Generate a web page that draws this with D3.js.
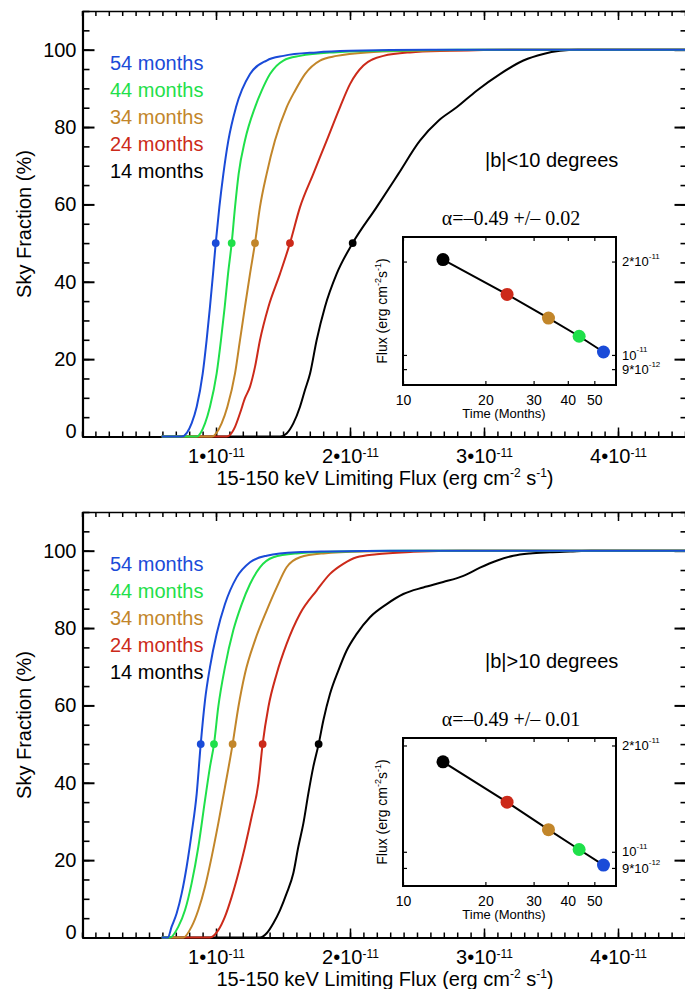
<!DOCTYPE html>
<html>
<head>
<meta charset="utf-8">
<script src="https://cdn.jsdelivr.net/npm/d3@7"></script>
<style>
  body { margin: 0; background: #fff; }
  svg { display: block; }
</style>
</head>
<body>
<svg id="chart" width="685" height="989"></svg>
<script>
// ---- Data -------------------------------------------------------------
// Survey exposure (months), listed in legend order
const months = [54, 44, 34, 24, 14];
const seriesColors = ["#1a4bd8", "#1fe04a", "#c2862a", "#cc2a1a", "#000000"];

// x-axis ticks (flux in units of 1e-11 erg cm^-2 s^-1)
const xMajorTicks = [1, 2, 3, 4];
const xTickExponent = "-11";
const yMajorTicks = [0, 20, 40, 60, 80, 100];

// Cumulative sky fraction (%) vs limiting flux (1e-11 cgs), |b|<10 deg
const lowLat54 = [[0.595,0],[0.744,0],[0.818,3.4],[0.856,7.7],[0.901,16.3],[0.930,24.9],[0.955,33.5],[0.978,42.1],[0.998,50],[1.025,59.3],[1.055,67.9],[1.092,76.5],[1.149,85.1],[1.254,93.7],[1.378,97.2],[1.503,98.4],[1.751,99.3],[2.0,99.7],[2.6,100],[4.5,100]];
const lowLat44 = [[0.595,0],[0.856,0],[0.918,3.4],[0.955,7.7],[1.005,16.3],[1.037,24.9],[1.065,33.5],[1.090,42.1],[1.117,50],[1.142,59.3],[1.169,67.9],[1.216,76.5],[1.291,85.1],[1.341,89.4],[1.403,93.7],[1.503,97.2],[1.627,98.4],[1.876,99.3],[2.249,99.7],[2.8,100],[4.5,100]];
const lowLat34 = [[0.595,0],[0.968,0],[1.042,3.4],[1.085,7.7],[1.142,16.3],[1.179,24.9],[1.216,33.5],[1.254,42.1],[1.291,50],[1.328,59.3],[1.378,67.9],[1.440,76.5],[1.527,85.1],[1.590,89.4],[1.664,93.7],[1.776,97.2],[1.901,98.4],[2.124,99.3],[2.498,99.7],[3.0,100],[4.5,100]];
const lowLat24 = [[0.595,0],[1.080,0],[1.104,0.4],[1.142,2.5],[1.179,6.0],[1.216,9.9],[1.254,12.9],[1.291,18.0],[1.328,24.9],[1.391,33.5],[1.478,42.1],[1.552,50],[1.627,59.3],[1.726,67.9],[1.826,76.5],[1.925,85.1],[2.0,91.1],[2.100,95.9],[2.249,98.4],[2.448,99.3],[2.746,99.7],[3.2,100],[4.5,100]];
const lowLat14 = [[0.595,0],[1.478,0],[1.527,0.8],[1.577,3.4],[1.627,7.7],[1.664,12.0],[1.702,16.3],[1.751,24.9],[1.813,33.5],[1.901,42.1],[2.020,50],[2.199,59.3],[2.361,67.9],[2.522,76.5],[2.662,81.7],[2.796,85.1],[2.945,89.4],[3.119,93.7],[3.294,97.2],[3.443,98.9],[3.567,99.7],[3.7,100],[4.5,100]];

// Same for |b|>10 deg
const highLat54 = [[0.595,0],[0.640,0],[0.669,2.8],[0.706,6.2],[0.744,11.4],[0.781,18.3],[0.818,26.9],[0.856,37.2],[0.886,50],[0.918,61.3],[0.955,69.9],[1.005,78.5],[1.067,86.2],[1.154,93.1],[1.254,97.0],[1.378,98.7],[1.602,99.6],[1.851,99.8],[2.3,100],[4.5,100]];
const highLat44 = [[0.595,0],[0.657,0],[0.719,2.8],[0.769,7.1],[0.818,14.0],[0.868,23.4],[0.918,35.5],[0.955,44.1],[0.985,50],[1.017,59.6],[1.067,69.9],[1.129,79.4],[1.192,86.2],[1.254,91.4],[1.328,95.7],[1.428,98.3],[1.602,99.3],[1.851,99.7],[2.4,100],[4.5,100]];
const highLat34 = [[0.595,0],[0.756,0],[0.818,2.8],[0.868,7.1],[0.918,13.1],[0.968,20.9],[1.017,29.5],[1.067,38.9],[1.124,50],[1.167,59.6],[1.216,68.2],[1.291,76.8],[1.378,84.5],[1.453,90.5],[1.527,95.7],[1.627,98.3],[1.801,99.3],[2.100,99.8],[2.6,100],[4.5,100]];
const highLat24 = [[0.595,0],[0.955,0],[1.017,1.9],[1.067,5.4],[1.117,10.5],[1.167,16.6],[1.216,23.4],[1.266,31.2],[1.316,39.8],[1.348,50],[1.391,59.6],[1.453,68.2],[1.527,75.9],[1.627,83.7],[1.751,89.7],[1.851,94.0],[1.950,96.6],[2.050,98.3],[2.199,99.1],[2.473,99.7],[2.846,100],[4.5,100]];
const highLat14 = [[0.595,0],[1.328,0],[1.378,1.1],[1.428,3.7],[1.478,7.1],[1.527,11.4],[1.577,16.6],[1.614,23.4],[1.652,29.5],[1.689,37.2],[1.726,44.1],[1.766,50],[1.801,56.1],[1.851,63.0],[1.913,69.0],[1.975,74.2],[2.050,78.5],[2.149,82.8],[2.274,86.2],[2.398,88.8],[2.547,90.5],[2.696,91.9],[2.846,93.5],[2.970,95.6],[3.094,97.4],[3.219,98.7],[3.343,99.3],[3.492,99.6],[3.642,99.8],[3.8,100],[4.5,100]];

// Flux at which half the sky is covered (1e-11 cgs), legend order
const halfSkyLow = [0.998, 1.117, 1.291, 1.552, 2.020];
const halfSkyHigh = [0.886, 0.985, 1.124, 1.348, 1.766];

// Inset: 50% limiting flux vs exposure time (1e-11 cgs), legend order
const insetFluxLow = [1.022, 1.149, 1.315, 1.567, 2.03];
const insetFluxHigh = [0.917, 1.015, 1.155, 1.382, 1.798];
const insetXTicks = [10, 20, 30, 40, 50];
const insetYTicks = [0.9, 1, 2];
const insetYLabels = {0.9: ["9*10", "-12"], 1: ["10", "-11"], 2: ["2*10", "-11"]};

const fitLow = "\u03b1=\u20130.49 +/\u2013 0.02";
const fitHigh = "\u03b1=\u20130.49 +/\u2013 0.01";

// ---- Drawing ----------------------------------------------------------
const SANS = '"Liberation Sans", Arial, Helvetica, sans-serif';
const SERIF = '"Liberation Serif", "Times New Roman", serif';
const svg = d3.select("#chart");

const x = d3.scaleLinear().domain([0, 4.5]).range([82, 685]);

function styleAxis(sel, width) {
  sel.attr("font-family", SANS);
  sel.selectAll(".tick line").attr("stroke", "#000").attr("stroke-width", width);
}

function drawPanel(p) {
  const g = svg.append("g").attr("transform", `translate(0,${p.dy})`);
  const y = d3.scaleLinear().domain([0, 110]).range([436.5, 11]);
  const minorX = d3.range(0, 45.1, 1).map(d => d / 10);
  const minorY = d3.range(0, 111, 5);

  // bottom axis (minor + major)
  const bMinor = g.append("g").attr("transform", "translate(0,436.5)")
    .call(d3.axisBottom(x).tickValues(minorX).tickSize(-5).tickSizeOuter(0).tickFormat(""));
  bMinor.select(".domain").attr("stroke-width", 2.2);
  styleAxis(bMinor, 1.5);
  const bMajor = g.append("g").attr("transform", "translate(0,436.5)")
    .call(d3.axisBottom(x).tickValues(xMajorTicks).tickSize(-9).tickPadding(12));
  bMajor.select(".domain").remove();
  styleAxis(bMajor, 1.5);
  bMajor.selectAll(".tick text").text(null).attr("font-size", 20).attr("fill", "#000")
    .each(function(d) {
      const t = d3.select(this);
      t.append("tspan").text(`${d}\u202210`);
      t.append("tspan").attr("font-size", 12).attr("dy", "-0.45em").text(xTickExponent);
    });

  // top axis
  const tMinor = g.append("g").attr("transform", "translate(0,11)")
    .call(d3.axisTop(x).tickValues(minorX).tickSize(-5).tickSizeOuter(0).tickFormat(""));
  tMinor.select(".domain").attr("stroke-width", 1.6);
  styleAxis(tMinor, 1.5);
  const tMajor = g.append("g").attr("transform", "translate(0,11)")
    .call(d3.axisTop(x).tickValues(xMajorTicks).tickSize(-9).tickFormat(""));
  tMajor.select(".domain").remove();
  styleAxis(tMajor, 1.5);

  // left axis
  const lMinor = g.append("g").attr("transform", "translate(82.5,0)")
    .call(d3.axisLeft(y).tickValues(minorY).tickSize(-7).tickSizeOuter(0).tickFormat(""));
  lMinor.select(".domain").attr("stroke-width", 2.2);
  styleAxis(lMinor, 1.6);
  const lMajor = g.append("g").attr("transform", "translate(82.5,0)")
    .call(d3.axisLeft(y).tickValues(yMajorTicks).tickSize(-12).tickPadding(6));
  lMajor.select(".domain").remove();
  styleAxis(lMajor, 2);
  lMajor.selectAll(".tick text").attr("font-size", 20).attr("fill", "#000")
    .attr("dy", d => d === 0 ? "0.05em" : "0.32em");

  // right axis (frame edge sits just beyond the canvas)
  const rMinor = g.append("g").attr("transform", "translate(686.5,0)")
    .call(d3.axisRight(y).tickValues(minorY).tickSize(-6).tickSizeOuter(0).tickFormat(""));
  styleAxis(rMinor, 1.6);
  const rMajor = g.append("g").attr("transform", "translate(686.5,0)")
    .call(d3.axisRight(y).tickValues(yMajorTicks).tickSize(-12).tickFormat(""));
  rMajor.select(".domain").remove();
  styleAxis(rMajor, 2);

  // axis titles
  const xt = g.append("text").attr("x", 385).attr("y", 485).attr("text-anchor", "middle")
    .attr("font-family", SANS).attr("font-size", 20);
  xt.append("tspan").text("15-150 keV Limiting Flux (erg cm");
  xt.append("tspan").attr("font-size", 12).attr("dy", -8).text("-2");
  xt.append("tspan").attr("dy", 8).text(" s");
  xt.append("tspan").attr("font-size", 12).attr("dy", -8).text("-1");
  xt.append("tspan").attr("dy", 8).text(")");

  g.append("text").attr("transform", "translate(31,224) rotate(-90)")
    .attr("text-anchor", "middle").attr("font-family", SANS).attr("font-size", 20)
    .text("Sky Fraction (%)");

  // curves, drawn from longest exposure last so it sits on top
  const line = d3.line().x(d => x(d[0])).y(d => y(d[1])).curve(d3.curveMonotoneX);
  const order = [4, 3, 2, 1, 0];
  order.forEach(i => {
    g.append("path").datum(p.curves[i]).attr("d", line)
      .attr("fill", "none").attr("stroke", seriesColors[i]).attr("stroke-width", 2)
      .attr("stroke-linejoin", "round");
  });
  order.forEach(i => {
    g.append("circle").attr("cx", x(p.half[i])).attr("cy", y(50)).attr("r", 3.9)
      .attr("fill", seriesColors[i]);
  });

  // legend
  months.forEach((m, i) => {
    g.append("text").attr("x", 110).attr("y", 70 + i * 27)
      .attr("font-family", SANS).attr("font-size", 20).attr("fill", seriesColors[i])
      .text(`${m} months`);
  });

  g.append("text").attr("x", 485).attr("y", 167).attr("font-family", SANS)
    .attr("font-size", 20).text(p.region);

  drawInset(g, p);
}

function drawInset(g, p) {
  const ix = d3.scaleLog().domain([10, 60]).range([403, 616]);
  const iy = d3.scaleLog().domain(p.insetDomain).range([385, 237]);

  g.append("text").attr("x", 511).attr("y", 225).attr("text-anchor", "middle")
    .attr("font-family", SERIF).attr("font-size", 20).text(p.fit);

  // ticks on all four sides
  const bx = g.append("g").attr("transform", "translate(0,385)")
    .call(d3.axisBottom(ix).tickValues(insetXTicks).tickSize(-4).tickSizeOuter(0).tickPadding(10).tickFormat(d3.format("d")));
  bx.select(".domain").remove();
  styleAxis(bx, 1.2);
  bx.selectAll(".tick text").attr("font-size", 14).attr("fill", "#000");
  const tx = g.append("g").attr("transform", "translate(0,237)")
    .call(d3.axisTop(ix).tickValues(insetXTicks).tickSize(-4).tickSizeOuter(0).tickFormat(""));
  tx.select(".domain").remove();
  styleAxis(tx, 1.2);
  const ly = g.append("g").attr("transform", "translate(403,0)")
    .call(d3.axisLeft(iy).tickValues(insetYTicks).tickSize(-4).tickSizeOuter(0).tickFormat(""));
  ly.select(".domain").remove();
  styleAxis(ly, 1.2);
  const ry = g.append("g").attr("transform", "translate(616,0)")
    .call(d3.axisRight(iy).tickValues(insetYTicks).tickSize(-4).tickSizeOuter(0).tickPadding(6));
  ry.select(".domain").remove();
  styleAxis(ry, 1.2);
  ry.selectAll(".tick text").text(null).attr("font-size", 13).attr("fill", "#000")
    .each(function(d) {
      const lab = insetYLabels[d];
      const t = d3.select(this);
      t.append("tspan").text(lab[0]);
      t.append("tspan").attr("font-size", 8).attr("dy", "-0.9em").text(lab[1]);
    });

  g.append("rect").attr("x", 403).attr("y", 237).attr("width", 213).attr("height", 148)
    .attr("fill", "none").attr("stroke", "#000").attr("stroke-width", 2);

  g.append("text").attr("x", 504).attr("y", 418).attr("text-anchor", "middle")
    .attr("font-family", SANS).attr("font-size", 13).text("Time (Months)");

  const yl = g.append("text").attr("transform", "translate(387,311) rotate(-90)")
    .attr("text-anchor", "middle").attr("font-family", SANS).attr("font-size", 14);
  yl.append("tspan").text("Flux (erg cm");
  yl.append("tspan").attr("font-size", 9).attr("dy", -6).text("-2");
  yl.append("tspan").attr("dy", 6).text("s");
  yl.append("tspan").attr("font-size", 9).attr("dy", -6).text("-1");
  yl.append("tspan").attr("dy", 6).text(")");

  const pts = months.map((m, i) => [m, p.inset[i]]);
  g.append("path").datum(pts)
    .attr("d", d3.line().x(d => ix(d[0])).y(d => iy(d[1])))
    .attr("fill", "none").attr("stroke", "#000").attr("stroke-width", 2);
  pts.forEach((d, i) => {
    g.append("circle").attr("cx", ix(d[0])).attr("cy", iy(d[1])).attr("r", 6.5)
      .attr("fill", seriesColors[i]);
  });
}

drawPanel({
  dy: 0,
  curves: [lowLat54, lowLat44, lowLat34, lowLat24, lowLat14],
  half: halfSkyLow,
  inset: insetFluxLow,
  insetDomain: [0.8, 2.4],
  fit: fitLow,
  region: "|b|<10 degrees"
});
drawPanel({
  dy: 501,
  curves: [highLat54, highLat44, highLat34, highLat24, highLat14],
  half: halfSkyHigh,
  inset: insetFluxHigh,
  insetDomain: [0.8, 2.1],
  fit: fitHigh,
  region: "|b|>10 degrees"
});
</script>
</body>
</html>
